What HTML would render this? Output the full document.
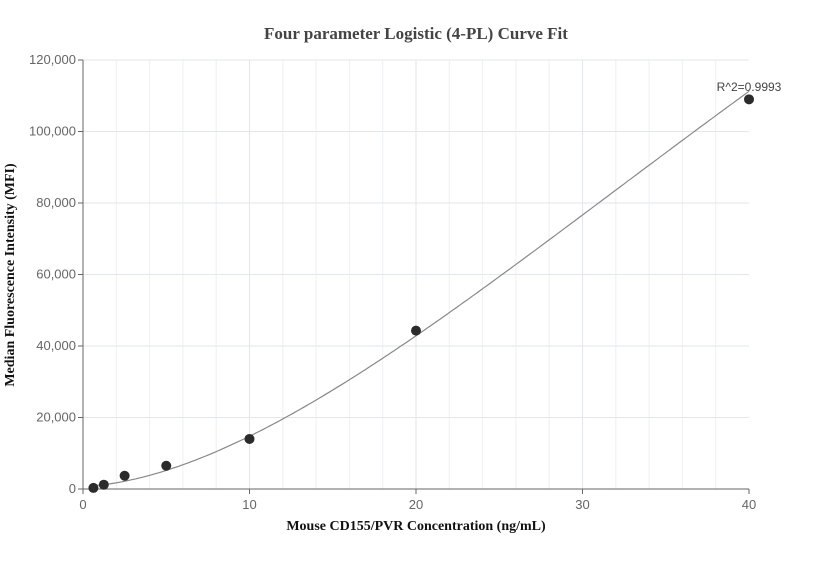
<!DOCTYPE html>
<html><head><meta charset="utf-8"><style>
body{margin:0;background:#fff;}
svg text{font-family:"Liberation Sans",sans-serif;}
</style></head><body>
<svg id="chart" width="832" height="560">
<text x="416" y="39" text-anchor="middle" style="font-family:'Liberation Serif',serif;font-weight:bold;font-size:17px;fill:#444">Four parameter Logistic (4-PL) Curve Fit</text>
<text x="416" y="530" text-anchor="middle" style="font-family:'Liberation Serif',serif;font-weight:bold;font-size:14px;fill:#111">Mouse CD155/PVR Concentration (ng/mL)</text>
<text transform="translate(14,275) rotate(-90)" text-anchor="middle" style="font-family:'Liberation Serif',serif;font-weight:bold;font-size:14px;fill:#111">Median Fluorescence Intensity (MFI)</text>
<g id="grid"></g><g id="axes"></g><g id="marks"></g>
</svg>
<script>
const xs=[0.625,1.25,2.5,5,10,20,40];
const ys=[300,1200,3700,6500,14000,44300,109000];
const xTicks=[0,10,20,30,40];
const yTicks=[0,20000,40000,60000,80000,100000,120000];
const fitParams=[800,1.7,70.4,400000];
const r2Label="R^2=0.9993";
const X0=83,X1=749,Y0=489,Y1=60;
const sx=v=>X0+(v-0)/(40-0)*(X1-X0);
const sy=v=>Y0-(v-0)/(120000-0)*(Y0-Y1);
const NS="http://www.w3.org/2000/svg";
function mk(tag,attrs,parent){const e=document.createElementNS(NS,tag);for(const k in attrs)e.setAttribute(k,attrs[k]);document.getElementById(parent).appendChild(e);return e;}
for(let v=2;v<40;v+=2){const l=mk('line',{x1:sx(v),x2:sx(v),y1:Y1,y2:Y0,stroke:v%10===0?'#e3e6ee':'#eef0f5','stroke-width':1},'grid');

}
yTicks.forEach(v=>{if(v===0)return;const l=mk('line',{x1:X0,x2:X1,y1:sy(v),y2:sy(v),stroke:'#e3e6ee'},'grid');


});
const ya=mk('line',{x1:X0,x2:X0,y1:Y1,y2:Y0,stroke:'#666'},'axes');


const xa=mk('line',{x1:X0,x2:X1,y1:Y0,y2:Y0,stroke:'#666'},'axes');


yTicks.forEach(v=>{mk('line',{x1:X0-5,x2:X0,y1:sy(v),y2:sy(v),stroke:'#666'},'axes');
const t=mk('text',{x:X0-7,y:sy(v)+4,'text-anchor':'end','font-size':13,fill:'#666'},'axes');t.textContent=v.toLocaleString('en-US');

});
xTicks.forEach(v=>{mk('line',{x1:sx(v),x2:sx(v),y1:Y0,y2:Y0+5,stroke:'#666'},'axes');
const t=mk('text',{x:sx(v),y:Y0+20,'text-anchor':'middle','font-size':13,fill:'#666'},'axes');t.textContent=v;

});
const [a,b,c,d]=fitParams;
const f=x=>d+(a-d)/(1+Math.pow(x/c,b));
let p='';for(let i=0;i<=200;i++){const x=0.6+(40-0.6)*i/200;p+=(i?'L':'M')+sx(x).toFixed(1)+','+sy(f(x)).toFixed(1);}
const curve=mk('path',{d:p,fill:'none',stroke:'#888','stroke-width':1.2},'marks');


xs.forEach((x,i)=>{const c=mk('circle',{cx:sx(x),cy:sy(ys[i]),r:5,fill:'#2b2b2b'},'marks');

});
const lab=mk('text',{x:749,y:91,'text-anchor':'middle','font-size':12,fill:'#444'},'marks');lab.textContent=r2Label;


</script>
</body></html>
